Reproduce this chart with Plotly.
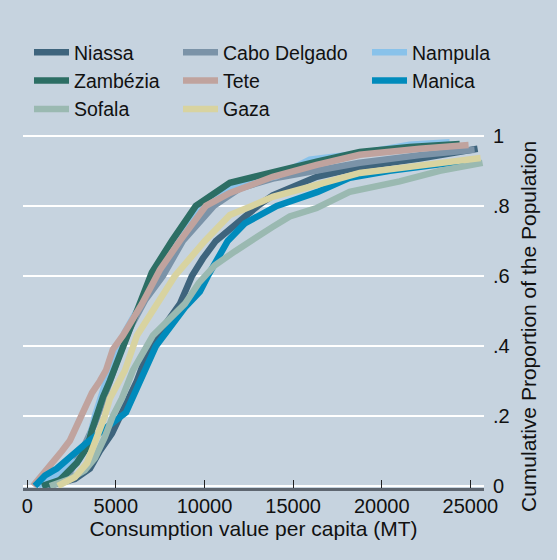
import plotly.graph_objects as go

# ---- data (consumption MT, cumulative proportion) ----
provinces = ["Niassa", "Cabo Delgado", "Nampula", "Zambézia", "Tete", "Manica", "Sofala", "Gaza"]

niassa_x = [1170, 2690, 3540, 4100, 4780, 5230, 5680, 6190, 6920, 7770, 8610, 9290, 9910, 10640, 11430, 13010, 13850, 16330, 18760, 22140, 25410]
niassa_y = [0.0, 0.02, 0.05, 0.10, 0.15, 0.20, 0.25, 0.30, 0.40, 0.46, 0.52, 0.60, 0.65, 0.70, 0.735, 0.80, 0.83, 0.883, 0.911, 0.935, 0.963]

cabo_x = [1000, 2410, 3080, 3820, 4320, 4660, 5230, 5790, 6640, 7650, 8780, 10530, 12000, 13850, 16330, 18760, 22140, 25240]
cabo_y = [0.0, 0.04, 0.10, 0.18, 0.25, 0.30, 0.38, 0.45, 0.53, 0.60, 0.70, 0.80, 0.85, 0.878, 0.903, 0.923, 0.945, 0.960]

nampula_x = [600, 1840, 2920, 3420, 3820, 4320, 4780, 5510, 6520, 7310, 8380, 9850, 11540, 14080, 15940, 18760, 21580, 23830]
nampula_y = [0.0, 0.04, 0.075, 0.12, 0.20, 0.28, 0.35, 0.44, 0.53, 0.61, 0.70, 0.80, 0.858, 0.885, 0.932, 0.950, 0.975, 0.982]

zambezia_x = [830, 1840, 2800, 3370, 3650, 3930, 4270, 4660, 4890, 5620, 6350, 7030, 8160, 9510, 11430, 13850, 16330, 18760, 21580, 24400]
zambezia_y = [0.0, 0.017, 0.066, 0.11, 0.16, 0.21, 0.254, 0.30, 0.33, 0.43, 0.52, 0.61, 0.70, 0.80, 0.866, 0.897, 0.926, 0.954, 0.968, 0.977]

tete_x = [320, 830, 1450, 1960, 2410, 3080, 3650, 4100, 4440, 4830, 5400, 6470, 7480, 8610, 10080, 11430, 13850, 16330, 18760, 22140, 24900]
tete_y = [0.0, 0.03, 0.066, 0.10, 0.13, 0.20, 0.266, 0.30, 0.33, 0.39, 0.43, 0.52, 0.617, 0.70, 0.80, 0.837, 0.883, 0.917, 0.946, 0.963, 0.974]

manica_x = [430, 1000, 1670, 2800, 3420, 5570, 6350, 7260, 8890, 9740, 10190, 11310, 12270, 14080, 16390, 18190, 20450, 23270, 24680]
manica_y = [0.0, 0.03, 0.05, 0.10, 0.126, 0.21, 0.30, 0.40, 0.51, 0.555, 0.60, 0.70, 0.75, 0.80, 0.84, 0.88, 0.90, 0.918, 0.928]

sofala_x = [1280, 2410, 3250, 3820, 4380, 4830, 5340, 5960, 7090, 8890, 9680, 10580, 11710, 12560, 13850, 14810, 16330, 18190, 21010, 23270, 25690]
sofala_y = [0.0, 0.02, 0.045, 0.08, 0.14, 0.20, 0.25, 0.33, 0.43, 0.52, 0.58, 0.63, 0.67, 0.70, 0.74, 0.77, 0.794, 0.84, 0.87, 0.90, 0.923]

gaza_x = [1730, 2690, 3370, 3700, 4100, 4380, 4660, 4950, 5510, 6190, 7310, 8330, 10020, 11430, 12670, 13850, 16330, 18760, 22140, 25580]
gaza_y = [0.0, 0.025, 0.065, 0.11, 0.16, 0.20, 0.25, 0.28, 0.33, 0.43, 0.52, 0.60, 0.70, 0.774, 0.80, 0.826, 0.86, 0.894, 0.915, 0.937]

series_x = [niassa_x, cabo_x, nampula_x, zambezia_x, tete_x, manica_x, sofala_x, gaza_x]
series_y = [niassa_y, cabo_y, nampula_y, zambezia_y, tete_y, manica_y, sofala_y, gaza_y]

colors = ["#3E647D", "#7B93A8", "#89C2EA", "#2C6E64", "#C0A39E", "#008BBC", "#9AB9B1", "#D8D3A0"]
legend_ids = ["legend", "legend2", "legend3", "legend", "legend2", "legend3", "legend", "legend2"]

x_ticks = [0, 5000, 10000, 15000, 20000, 25000]
y_ticks = [0, 0.2, 0.4, 0.6, 0.8, 1.0]
y_ticktext = ["0", ".2", ".4", ".6", ".8", "1"]

BG = "#C6D3DF"
FONT = "Liberation Sans, Arial, Helvetica, sans-serif"

fig = go.Figure()
for name, xs, ys, c, lg in zip(provinces, series_x, series_y, colors, legend_ids):
    fig.add_trace(go.Scatter(x=xs, y=ys, mode="lines", name=name, legend=lg,
                             line=dict(color=c, width=6.5)))

W, H = 557, 560
L, R, T, B = 23, 73, 125, 72

def leg(xpx, ytop):
    return dict(x=xpx / W, y=1 - ytop / H, xref="container", yref="container",
                xanchor="left", yanchor="top", bgcolor="rgba(0,0,0,0)",
                font=dict(family=FONT, size=19.5, color="#111"), itemwidth=35,
                orientation="v", borderwidth=0)

fig.update_layout(
    width=W, height=H,
    margin=dict(l=L, r=R, t=T, b=B, autoexpand=False),
    paper_bgcolor=BG, plot_bgcolor=BG,
    font=dict(family=FONT, size=20, color="#111"),
    showlegend=True,
    legend=leg(29, 33), legend2=leg(178, 33), legend3=leg(367, 33),
    xaxis=dict(range=[-240, 25770], tickvals=x_ticks, ticktext=[str(v) for v in x_ticks],
               ticks="inside", ticklen=8, tickwidth=1, tickcolor="#222",
               showline=True, linecolor="#5E6670", linewidth=3,
               showgrid=False, zeroline=False,
               tickfont=dict(size=20), ticklabelstandoff=-2,
               title=dict(text="Consumption value per capita (MT)", font=dict(size=21), standoff=0)),
    yaxis=dict(range=[-0.0057, 1.031], side="right", tickvals=y_ticks, ticktext=y_ticktext,
               ticks="", showline=False, showgrid=True, gridcolor="white", gridwidth=2,
               zeroline=False, tickfont=dict(size=20), ticklabelstandoff=8),
    annotations=[dict(text="Cumulative Proportion of the Population", textangle=-90,
                      xref="paper", yref="paper", x=(528 - L) / (W - L - R), y=(488 - 327) / (H - T - B),
                      xanchor="center", yanchor="middle", showarrow=False,
                      font=dict(family=FONT, size=21, color="#111"))],
)

fig.write_html("out.html", config={"displayModeBar": False},
               post_script="document.body.style.margin='0';")
